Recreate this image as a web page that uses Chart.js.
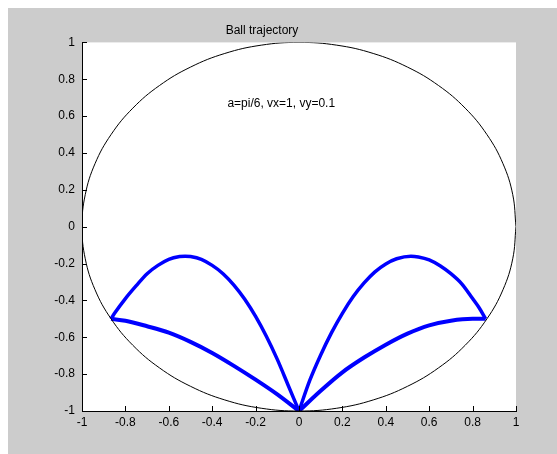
<!DOCTYPE html>
<html>
<head>
<meta charset="utf-8">
<script src="https://cdn.jsdelivr.net/npm/chart.js@4"></script>
<style>
  html, body { margin: 0; padding: 0; background: #ffffff; }
  #wrap { position: absolute; left: 8px; top: 8px; width: 549px; height: 446px; background: #cccccc; }
</style>
</head>
<body>
<div id="wrap"><canvas id="ballChart" width="549" height="446"></canvas></div>
<script>
const chartTitle = "Ball trajectory";
const noteText = "a=pi/6, vx=1, vy=0.1";
const notePos = { x: -0.33, y: 0.665 };
const tickValues = [-1, -0.8, -0.6, -0.4, -0.2, 0, 0.2, 0.4, 0.6, 0.8, 1];

// boundary circle, read every 10 degrees
const circleX = [1, 0.985, 0.94, 0.866, 0.766, 0.643, 0.5, 0.342, 0.174, 0, -0.174, -0.342, -0.5, -0.643, -0.766, -0.866, -0.94, -0.985, -1,
  -0.985, -0.94, -0.866, -0.766, -0.643, -0.5, -0.342, -0.174, 0, 0.174, 0.342, 0.5, 0.643, 0.766, 0.866, 0.94, 0.985, 1];
const circleY = [0, 0.174, 0.342, 0.5, 0.643, 0.766, 0.866, 0.94, 0.985, 1, 0.985, 0.94, 0.866, 0.766, 0.643, 0.5, 0.342, 0.174, 0,
  -0.174, -0.342, -0.5, -0.643, -0.766, -0.866, -0.94, -0.985, -1, -0.985, -0.94, -0.866, -0.766, -0.643, -0.5, -0.342, -0.174, 0];

// left high arc (bounce point -> bottom)
const leftArcX = [-0.866, -0.85, -0.8, -0.75, -0.7, -0.65, -0.6, -0.55, -0.525, -0.5, -0.45, -0.4, -0.35, -0.3, -0.25, -0.2, -0.15, -0.1, -0.05, 0];
const leftArcY = [-0.5, -0.47, -0.39, -0.32, -0.255, -0.21, -0.177, -0.162, -0.16, -0.162, -0.177, -0.21, -0.255, -0.317, -0.394, -0.487, -0.596, -0.72, -0.86, -1];
// left low arc
const leftLowX = [-0.866, -0.8, -0.7, -0.6, -0.5, -0.4, -0.3, -0.2, -0.1, 0];
const leftLowY = [-0.5, -0.51, -0.54, -0.575, -0.625, -0.685, -0.755, -0.83, -0.91, -1];
// right high arc
const rightArcX = [0, 0.05, 0.1, 0.15, 0.2, 0.25, 0.3, 0.35, 0.4, 0.45, 0.516, 0.55, 0.6, 0.65, 0.7, 0.75, 0.8, 0.83, 0.86];
const rightArcY = [-1, -0.833, -0.696, -0.575, -0.47, -0.379, -0.305, -0.245, -0.202, -0.174, -0.16, -0.164, -0.18, -0.212, -0.255, -0.31, -0.39, -0.44, -0.5];
// right low arc
const rightLowX = [0, 0.1, 0.2, 0.3, 0.4, 0.5, 0.6, 0.7, 0.8, 0.86];
const rightLowY = [-1, -0.89, -0.79, -0.71, -0.64, -0.58, -0.535, -0.51, -0.5, -0.5];

const FONT = "'Liberation Sans', Arial, sans-serif";

function pts(xs, ys) {
  return xs.map((x, i) => ({ x: x, y: ys[i] }));
}

function trace(xs, ys, w) {
  return {
    data: pts(xs, ys),
    showLine: true,
    borderColor: "#0000ff",
    borderWidth: w,
    pointRadius: 0,
    cubicInterpolationMode: "monotone",
    fill: false
  };
}

// white axes box, inward tick marks and the text note
const matlabLook = {
  id: "matlabLook",
  beforeDraw(chart) {
    const a = chart.chartArea;
    const ctx = chart.ctx;
    ctx.save();
    ctx.fillStyle = "#ffffff";
    ctx.fillRect(a.left, a.top, a.right - a.left, a.bottom - a.top);
    ctx.restore();
  },
  afterDraw(chart) {
    const a = chart.chartArea;
    const ctx = chart.ctx;
    const xs = chart.scales.x;
    const ys = chart.scales.y;
    ctx.save();
    ctx.strokeStyle = "#000000";
    ctx.lineWidth = 1;
    ctx.beginPath();
    xs.ticks.forEach(t => {
      const px = Math.round(xs.getPixelForValue(t.value)) + 0.5;
      ctx.moveTo(px, a.bottom);
      ctx.lineTo(px, a.bottom - 5);
    });
    ys.ticks.forEach(t => {
      const py = Math.round(ys.getPixelForValue(t.value)) + 0.5;
      ctx.moveTo(a.left, py);
      ctx.lineTo(a.left + 5, py);
    });
    ctx.stroke();

    ctx.fillStyle = "#000000";
    ctx.font = "12px " + FONT;
    ctx.textAlign = "left";
    ctx.textBaseline = "middle";
    ctx.fillText(noteText, xs.getPixelForValue(notePos.x), ys.getPixelForValue(notePos.y));
    ctx.restore();
  }
};

const axisOpts = {
  type: "linear",
  min: -1,
  max: 1,
  afterBuildTicks(scale) {
    scale.ticks = tickValues.map(v => ({ value: v }));
  },
  grid: { display: true, drawOnChartArea: false, drawTicks: false },
  border: { display: true, color: "#000000", width: 1 },
  ticks: {
    color: "#000000",
    font: { family: FONT, size: 12 },
    autoSkip: false,
    maxRotation: 0,
    callback: v => String(v)
  }
};

new Chart(document.getElementById("ballChart").getContext("2d"), {
  type: "scatter",
  data: {
    datasets: [
      {
        data: pts(circleX, circleY),
        showLine: true,
        borderColor: "#000000",
        borderWidth: 1,
        pointRadius: 0,
        tension: 0.4,
        fill: false
      },
      trace(leftArcX, leftArcY, 3.5),
      trace(leftLowX, leftLowY, 4),
      trace(rightArcX, rightArcY, 3.5),
      trace(rightLowX, rightLowY, 4)
    ]
  },
  options: {
    responsive: false,
    animation: false,
    layout: { padding: { left: 0, right: 41, top: 0, bottom: 0 } },
    plugins: {
      legend: { display: false },
      tooltip: { enabled: false },
      title: {
        display: true,
        text: chartTitle,
        color: "#000000",
        font: { family: FONT, size: 12, weight: "normal", lineHeight: 1.2 },
        padding: { top: 15, bottom: 5 }
      }
    },
    scales: {
      x: Object.assign({}, axisOpts, {
        position: "bottom",
        ticks: Object.assign({}, axisOpts.ticks, { padding: 4 }),
        afterFit(scale) { scale.height = 43; }
      }),
      y: Object.assign({}, axisOpts, {
        position: "left",
        ticks: Object.assign({}, axisOpts.ticks, { padding: 7 }),
        afterFit(scale) { scale.width = 74; }
      })
    }
  },
  plugins: [matlabLook]
});
</script>
</body>
</html>
